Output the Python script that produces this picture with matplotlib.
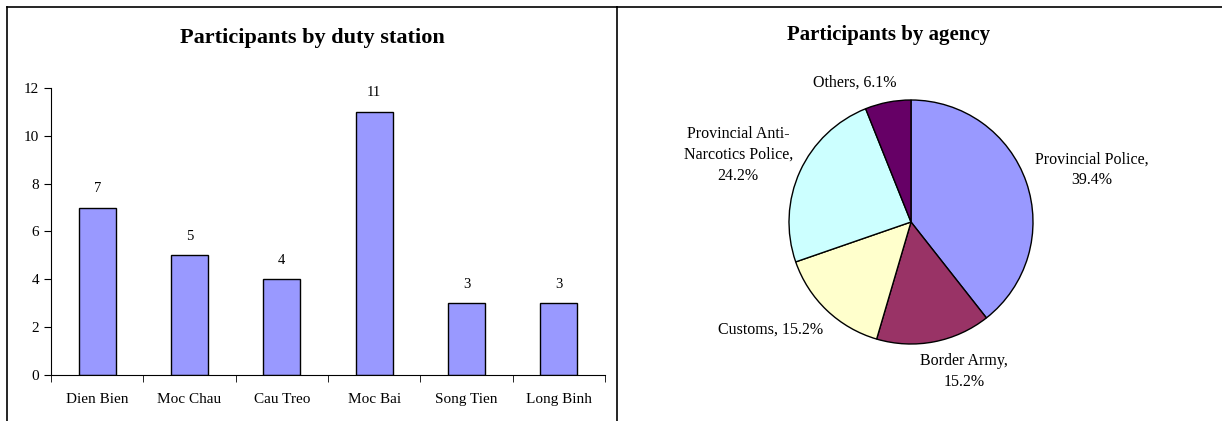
import numpy as np
import matplotlib
matplotlib.use("Agg")
import matplotlib.pyplot as plt
from matplotlib.lines import Line2D

plt.rcParams["font.family"] = ["Liberation Serif", "DejaVu Serif"]

# data
stations = ["Dien Bien", "Moc Chau", "Cau Treo", "Moc Bai", "Song Tien", "Long Binh"]
participants = [7, 5, 4, 11, 3, 3]

agencies = ["Provincial Police", "Border Army", "Customs",
            "Provincial Anti-\nNarcotics Police", "Others"]
agency_counts = [13, 5, 5, 8, 2]
agency_colors = ["#9999FF", "#993366", "#FFFFCC", "#CCFFFF", "#660066"]

W, H = 1222, 421
fig = plt.figure(figsize=(W / 100, H / 100), dpi=100)

# panel frames
def fl(x0, y0, x1, y1):
    fig.add_artist(Line2D([x0 / W, x1 / W], [1 - y0 / H, 1 - y1 / H],
                          color="black", lw=1.2, transform=fig.transFigure))

fl(7, 7, 617, 7)
fl(7, 7, 7, 421)
fl(617, 7, 1222, 7)
fl(617, 7, 617, 421)

# ---- bar chart ----
ax = fig.add_axes([51 / W, 1 - 375 / H, 554 / W, 287 / H])
x = np.arange(len(stations))
ax.bar(x, participants, width=0.4, color="#9999FF", edgecolor="black", linewidth=1)
for xi, v in zip(x, participants):
    ax.annotate(str(v), (xi, v), xytext=(0, 9), textcoords="offset points",
                ha="center", va="bottom", fontsize=10.5)
ax.set_xlim(-0.5, len(stations) - 0.5)
ax.set_ylim(0, 12)
ax.set_yticks(range(0, 13, 2))
ax.set_xticks(x)
ax.set_xticklabels(stations, fontsize=11)
ax.tick_params(axis="x", which="major", length=0, pad=13)
ax.set_xticks(np.arange(-0.5, len(stations), 1), minor=True)
ax.tick_params(axis="x", which="minor", length=5, direction="out")
ax.tick_params(axis="y", length=5, direction="out", labelsize=11)
ax.spines["top"].set_visible(False)
ax.spines["right"].set_visible(False)
fig.text(312 / W, 1 - 38 / H, "Participants by duty station", ha="center",
         va="center", fontsize=16, fontweight="bold")

# ---- pie chart ----
cx, cy, r = 911, 222, 122
l, rr, t, b = 640, 1200, 40, 400
ax2 = fig.add_axes([l / W, 1 - b / H, (rr - l) / W, (b - t) / H])
wedges, _ = ax2.pie(agency_counts, colors=agency_colors, startangle=90,
                    counterclock=False,
                    wedgeprops=dict(edgecolor="black", linewidth=1))
ax2.set_xlim((l - cx) / r, (rr - cx) / r)
ax2.set_ylim((H - b - (H - cy)) / r, (H - t - (H - cy)) / r)
ax2.set_aspect("auto")
ax2.axis("off")

total = sum(agency_counts)
dist = [1.54, 1.3, 1.45, 1.52, 1.23]
shift = [-3, 8.5, -9, 3.3, 11]
for w, name, c, d, s in zip(wedges, agencies, agency_counts, dist, shift):
    ang = np.deg2rad((w.theta1 + w.theta2) / 2 + s)
    pct = 100 * c / total
    if name in ("Customs", "Others"):
        txt = f"{name}, {pct:.1f}%"
    else:
        txt = f"{name},\n{pct:.1f}%"
    ax2.text(d * np.cos(ang), d * np.sin(ang), txt, ha="center", va="center",
             fontsize=11.5, linespacing=1.4)

fig.text(889 / W, 1 - 35 / H, "Participants by agency", ha="center",
         va="center", fontsize=15, fontweight="bold")

fig.savefig("out.png", dpi=100)
